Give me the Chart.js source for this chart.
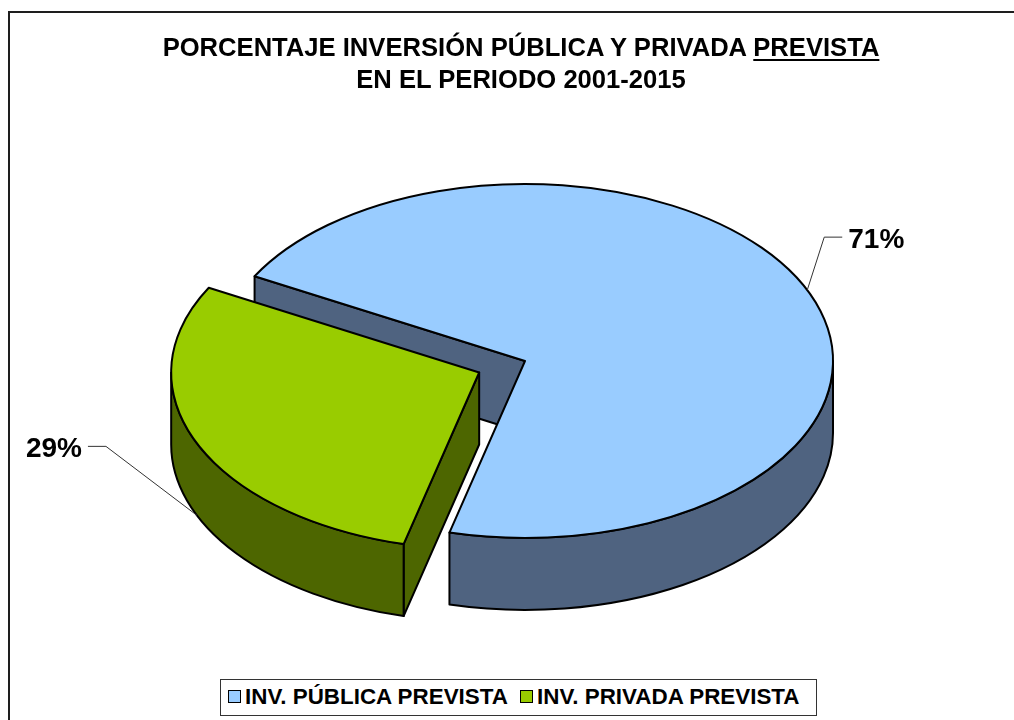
<!DOCTYPE html>
<html>
<head>
<meta charset="utf-8">
<script src="https://cdn.jsdelivr.net/npm/chart.js@4/dist/chart.umd.min.js"></script>
<style>
  html, body { margin: 0; padding: 0; background: #fff; width: 1014px; height: 720px; overflow: hidden; }
  #frame { position: absolute; left: 8px; top: 11px; width: 1200px; height: 900px;
           border-left: 2px solid #1e1e1e; border-top: 2px solid #1e1e1e; }
  #chartBox { position: absolute; left: 0; top: 0; width: 1014px; height: 720px; }
  #title { position: absolute; left: 0; width: 1042px; top: 31px; text-align: center;
           font: bold 25.6px "Liberation Sans", Arial, sans-serif; line-height: 32px; color: #000; }
  #title u { text-decoration-thickness: 2px; text-underline-offset: 3px; }
  #legend { position: absolute; left: 220px; top: 679px; width: 595px; height: 35px;
            border: 1px solid #333; background: #fff; box-sizing: content-box;
            font: bold 22.4px "Liberation Sans", Arial, sans-serif; color: #000; }
  .item { position: absolute; top: -1px; height: 35px; display: flex; align-items: center; white-space: nowrap; }
  .mark { width: 11px; height: 11px; border: 1.5px solid #000; margin-right: 4px; }
</style>
</head>
<body>
<div id="frame"></div>
<div id="chartBox"><canvas id="c" width="1014" height="720"></canvas></div>
<div id="title"></div>
<div id="legend"></div>
<script>
// ---- data ----
const categories = ['INV. PÚBLICA PREVISTA', 'INV. PRIVADA PREVISTA'];
const values = [71, 29];
const titleLine1 = 'PORCENTAJE INVERSIÓN PÚBLICA Y PRIVADA ';
const titleUnderlined = 'PREVISTA';
const titleLine2 = 'EN EL PERIODO 2001-2015';

// ---- styles ----
const topColors = ['#99CCFF', '#99CC00'];
const sideColors = ['#4F6380', '#4D6600'];
const explode = [0, 50];
const leaders = [ { dx: 17, dy: -53, len: 18 }, { dx: -91, dy: -69, len: 18 } ];
const legendItemX = [7, 299];

// ---- title ----
const t = document.getElementById('title');
t.appendChild(document.createTextNode(titleLine1));
const u = document.createElement('u'); u.textContent = titleUnderlined; t.appendChild(u);
t.appendChild(document.createElement('br'));
t.appendChild(document.createTextNode(titleLine2));

function frontSpans(a0, a1) {
  const spans = [];
  for (let k = -2; k <= 4; k++) {
    const s = Math.max(a0, k * 2 * Math.PI), e = Math.min(a1, k * 2 * Math.PI + Math.PI);
    if (e > s) spans.push([s, e]);
  }
  return spans;
}

const pie3d = {
  id: 'pie3d',
  beforeDatasetsDraw(chart, args, opts) {
    const ctx = chart.ctx;
    const meta = chart.getDatasetMeta(0);
    const ds = chart.data.datasets[0];
    const k = opts.squash, depth = opts.depth;
    const total = ds.data.reduce((a, b) => a + b, 0);
    const slices = meta.data.map((arc, i) => {
      const p = arc.getProps(['x', 'y', 'startAngle', 'endAngle', 'outerRadius'], true);
      const mid = (p.startAngle + p.endAngle) / 2;
      const off = opts.explode[i] || 0;
      return { i, a0: p.startAngle, a1: p.endAngle, mid, rx: p.outerRadius, ry: p.outerRadius * k,
               cx: p.x + Math.cos(mid) * off, cy: p.y + Math.sin(mid) * off * k,
               top: ds.backgroundColor[i], side: opts.sideColors[i],
               pct: Math.round(ds.data[i] / total * 100) + '%' };
    });
    const order = slices.slice().sort((a, b) => Math.sin(a.mid) - Math.sin(b.mid));
    ctx.save();
    ctx.lineWidth = 2; ctx.strokeStyle = '#000'; ctx.lineJoin = 'round';
    order.forEach(s => {
      const faces = [];
      if (Math.cos(s.a0) < 0) faces.push(s.a0);
      if (Math.cos(s.a1) > 0) faces.push(s.a1);
      faces.forEach(a => {
        const px = s.cx + s.rx * Math.cos(a), py = s.cy + s.ry * Math.sin(a);
        ctx.beginPath();
        ctx.moveTo(s.cx, s.cy); ctx.lineTo(px, py); ctx.lineTo(px, py + depth); ctx.lineTo(s.cx, s.cy + depth);
        ctx.closePath(); ctx.fillStyle = s.side; ctx.fill(); ctx.stroke();
      });
      frontSpans(s.a0, s.a1).forEach(([a, b]) => {
        ctx.beginPath();
        ctx.ellipse(s.cx, s.cy, s.rx, s.ry, 0, a, b, false);
        ctx.ellipse(s.cx, s.cy + depth, s.rx, s.ry, 0, b, a, true);
        ctx.closePath(); ctx.fillStyle = s.side; ctx.fill(); ctx.stroke();
      });
      ctx.beginPath();
      ctx.moveTo(s.cx, s.cy);
      ctx.ellipse(s.cx, s.cy, s.rx, s.ry, 0, s.a0, s.a1, false);
      ctx.closePath(); ctx.fillStyle = s.top; ctx.fill(); ctx.stroke();
    });
    // labels with leader lines
    ctx.font = 'bold 28px "Liberation Sans", Arial, sans-serif';
    ctx.fillStyle = '#000';
    slices.forEach(s => {
      const L = opts.leaders[s.i];
      const ax = s.cx + s.rx * Math.cos(s.mid);
      const ay = s.cy + s.ry * Math.sin(s.mid) + (Math.sin(s.mid) > 0 ? depth : 0);
      const ex = ax + L.dx, ey = ay + L.dy;
      const dir = L.dx > 0 ? 1 : -1;
      const hx = ex + dir * L.len;
      ctx.beginPath(); ctx.lineWidth = 1; ctx.strokeStyle = '#333';
      ctx.moveTo(ax, ay); ctx.lineTo(ex, ey); ctx.lineTo(hx, ey); ctx.stroke();
      ctx.textBaseline = 'middle';
      ctx.textAlign = dir > 0 ? 'left' : 'right';
      ctx.fillText(s.pct, hx + dir * 6, ey + 3);
    });
    ctx.restore();
    return false;
  }
};

const chart = new Chart(document.getElementById('c'), {
  type: 'pie',
  data: {
    labels: categories,
    datasets: [{ data: values, backgroundColor: topColors, borderColor: '#000', borderWidth: 1.5 }]
  },
  options: {
    responsive: false,
    animation: false,
    rotation: 298.6,
    radius: 308,
    layout: { padding: { left: 36, right: 0, top: 2, bottom: 0 } },
    plugins: {
      legend: { display: false },
      title: { display: false },
      tooltip: { enabled: false },
      pie3d: { squash: 177 / 308, depth: 72, explode: explode, sideColors: sideColors, leaders: leaders }
    }
  },
  plugins: [pie3d]
});

// ---- legend built from chart data ----
const leg = document.getElementById('legend');
chart.data.labels.forEach((lab, i) => {
  const it = document.createElement('div'); it.className = 'item'; it.style.left = legendItemX[i] + 'px';
  const m = document.createElement('span'); m.className = 'mark';
  m.style.background = chart.data.datasets[0].backgroundColor[i];
  const tx = document.createElement('span'); tx.textContent = lab;
  it.appendChild(m); it.appendChild(tx); leg.appendChild(it);
});
</script>
</body>
</html>
